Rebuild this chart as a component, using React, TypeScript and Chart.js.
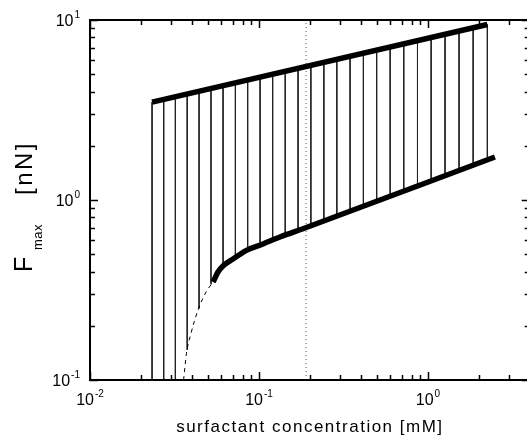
import { useEffect, useRef } from 'react';
import { Chart, registerables } from 'chart.js';

Chart.register(...registerables);

// ---- axis ranges and ticks ----
const xMin = 0.01;
const xMax = 4;
const yMin = 0.1;
const yMax = 10;
const xDecades = [-2, -1, 0];
const yDecades = [-1, 0, 1];
const minorMultipliers = [2, 3, 4, 5, 6, 7, 8, 9];

// ---- data ----
const upperX = [0.0233, 2.246];
const upperY = [3.5, 9.44];

const lowerX = [0.0535, 0.0572, 0.0612, 0.0702, 0.0849, 0.1056, 0.1331, 0.1871, 2.49];
const lowerY = [0.35, 0.398, 0.43, 0.47, 0.527, 0.57, 0.623, 0.699, 1.733];

const extX = [0.0358, 0.0372, 0.0395, 0.0436, 0.0486, 0.0535];
const extY = [0.1, 0.14, 0.18, 0.245, 0.308, 0.35];

const hatchX = [0.0233, 0.0273, 0.032, 0.0376, 0.0442, 0.052, 0.0613, 0.0725, 0.0857, 0.1015, 0.1205, 0.143, 0.1703, 0.2028, 0.2421, 0.2889, 0.346, 0.4148, 0.4971, 0.5974, 0.7191, 0.8669, 1.0445, 1.262, 1.528, 1.851, 2.246];
const hatchTop = [3.5, 3.62, 3.75, 3.88, 4.02, 4.17, 4.32, 4.48, 4.65, 4.82, 5.0, 5.19, 5.39, 5.6, 5.82, 6.05, 6.29, 6.54, 6.81, 7.08, 7.38, 7.68, 8.0, 8.33, 8.68, 9.05, 9.44];
const hatchBottom = [0.1, 0.1, 0.1, 0.147, 0.25, 0.34, 0.43, 0.476, 0.527, 0.562, 0.6, 0.635, 0.676, 0.719, 0.765, 0.814, 0.868, 0.924, 0.985, 1.05, 1.12, 1.196, 1.279, 1.366, 1.46, 1.561, 1.67];

const refX = 0.19;

const xTitle = 'surfactant concentration [mM]';
const yTitleMain = 'F';
const yTitleSub = 'max';
const yTitleUnit = '[nN]';

const FONT = '"Liberation Sans", Arial, Helvetica, sans-serif';

const pts = (xs: number[], ys: number[]) => xs.map((x, i) => ({ x, y: ys[i] }));

const matlabPlugin = {
  id: 'matlabAxes',
  afterDraw(chart: any) {
    const { ctx, chartArea: a, scales } = chart;
    const xs = scales.x;
    const ys = scales.y;
    ctx.save();
    ctx.strokeStyle = '#000';
    ctx.fillStyle = '#000';

    // tick marks (inward, all four sides)
    ctx.lineWidth = 1.5;
    const xTicks: { v: number; major: boolean }[] = [];
    xDecades.forEach((d) => {
      xTicks.push({ v: Math.pow(10, d), major: true });
      minorMultipliers.forEach((m) => xTicks.push({ v: m * Math.pow(10, d), major: false }));
    });
    xTicks.forEach(({ v, major }) => {
      if (v < xMin || v > xMax) return;
      const px = Math.round(xs.getPixelForValue(v)) + 0.5;
      const len = major ? 8 : 5;
      ctx.beginPath();
      ctx.moveTo(px, a.bottom);
      ctx.lineTo(px, a.bottom - len);
      ctx.moveTo(px, a.top);
      ctx.lineTo(px, a.top + len);
      ctx.stroke();
    });
    const yTicks: { v: number; major: boolean }[] = [];
    yDecades.forEach((d) => {
      yTicks.push({ v: Math.pow(10, d), major: true });
      minorMultipliers.forEach((m) => yTicks.push({ v: m * Math.pow(10, d), major: false }));
    });
    yTicks.forEach(({ v, major }) => {
      if (v < yMin || v > yMax) return;
      const py = Math.round(ys.getPixelForValue(v)) + 0.5;
      const len = major ? 8 : 5;
      ctx.beginPath();
      ctx.moveTo(a.left, py);
      ctx.lineTo(a.left + len, py);
      ctx.moveTo(a.right, py);
      ctx.lineTo(a.right - len, py);
      ctx.stroke();
    });

    // box
    ctx.lineWidth = 2;
    ctx.strokeRect(a.left, a.top, a.right - a.left, a.bottom - a.top);

    // tick labels
    const baseFont = `16px ${FONT}`;
    const expFont = `10px ${FONT}`;
    xDecades.forEach((d) => {
      const v = Math.pow(10, d);
      const px = xs.getPixelForValue(v);
      ctx.font = baseFont;
      const w1 = ctx.measureText('10').width;
      ctx.font = expFont;
      const e = String(d).replace('-', '-');
      const w2 = ctx.measureText(e).width;
      const total = w1 + 1 + w2;
      const start = px - total / 2;
      ctx.textAlign = 'left';
      ctx.textBaseline = 'alphabetic';
      ctx.font = baseFont;
      ctx.fillText('10', start, a.bottom + 25);
      ctx.font = expFont;
      ctx.fillText(e, start + w1 + 1, a.bottom + 17);
    });
    yDecades.forEach((d) => {
      const v = Math.pow(10, d);
      const py = ys.getPixelForValue(v);
      ctx.font = baseFont;
      const w1 = ctx.measureText('10').width;
      ctx.font = expFont;
      const e = String(d);
      const w2 = ctx.measureText(e).width;
      const right = a.left - 10;
      const start = right - w2 - 1 - w1;
      ctx.textAlign = 'left';
      ctx.textBaseline = 'alphabetic';
      ctx.font = baseFont;
      ctx.fillText('10', start, py + 6);
      ctx.font = expFont;
      ctx.fillText(e, start + w1 + 1, py - 2);
    });

    // x title
    ctx.font = `17px ${FONT}`;
    (ctx as any).letterSpacing = '1.5px';
    ctx.textAlign = 'center';
    ctx.fillText(xTitle, (a.left + a.right) / 2, 432);

    // y title (rotated)
    ctx.save();
    ctx.translate(32, 272);
    ctx.rotate(-Math.PI / 2);
    ctx.textAlign = 'left';
    (ctx as any).letterSpacing = '0px';
    ctx.font = `25px ${FONT}`;
    ctx.fillText(yTitleMain, 0, 0);
    ctx.font = `13px ${FONT}`;
    (ctx as any).letterSpacing = '0.5px';
    ctx.fillText(yTitleSub, 22, 10);
    ctx.font = `24px ${FONT}`;
    (ctx as any).letterSpacing = '2.5px';
    ctx.fillText(yTitleUnit, 77, 0);
    ctx.restore();

    ctx.restore();
  },
};

export default function App() {
  const ref = useRef<HTMLCanvasElement>(null);

  useEffect(() => {
    if (!ref.current) return;
    const thick = { borderColor: '#000', borderWidth: 5.5, showLine: true, pointRadius: 0, fill: false };
    const datasets: any[] = [
      { ...thick, data: pts(upperX, upperY) },
      { ...thick, data: pts(lowerX, lowerY), cubicInterpolationMode: 'monotone' },
      {
        data: pts(extX, extY),
        borderColor: '#000',
        borderWidth: 1,
        borderDash: [4, 4],
        showLine: true,
        pointRadius: 0,
        cubicInterpolationMode: 'monotone',
      },
      ...hatchX.map((x, i) => ({
        data: [
          { x, y: hatchTop[i] },
          { x, y: hatchBottom[i] },
        ],
        borderColor: '#222',
        borderWidth: 1,
        showLine: true,
        pointRadius: 0,
      })),
      {
        data: [
          { x: refX, y: yMin },
          { x: refX, y: yMax },
        ],
        borderColor: '#555',
        borderWidth: 1,
        borderDash: [1, 3],
        showLine: true,
        pointRadius: 0,
      },
    ];

    const chart = new Chart(ref.current, {
      type: 'scatter',
      data: { datasets },
      options: {
        animation: false,
        responsive: false,
        devicePixelRatio: 1,
        events: [],
        layout: { padding: { left: 0, top: 20, right: 540 - 529.7, bottom: 0 } },
        plugins: { legend: { display: false }, tooltip: { enabled: false } },
        scales: {
          x: {
            type: 'logarithmic',
            min: xMin,
            max: xMax,
            grid: { display: false },
            border: { display: false },
            ticks: { display: false },
            afterFit: (s: any) => {
              s.height = 61;
            },
          },
          y: {
            type: 'logarithmic',
            min: yMin,
            max: yMax,
            grid: { display: false },
            border: { display: false },
            ticks: { display: false },
            afterFit: (s: any) => {
              s.width = 90;
            },
          },
        },
      } as any,
      plugins: [matlabPlugin],
    });
    return () => chart.destroy();
  }, []);

  return (
    <div style={{ position: 'fixed', left: 0, top: 0, width: 527, height: 441, overflow: 'hidden', background: '#fff' }}>
      <canvas ref={ref} width={540} height={441} style={{ display: 'block' }} />
    </div>
  );
}
